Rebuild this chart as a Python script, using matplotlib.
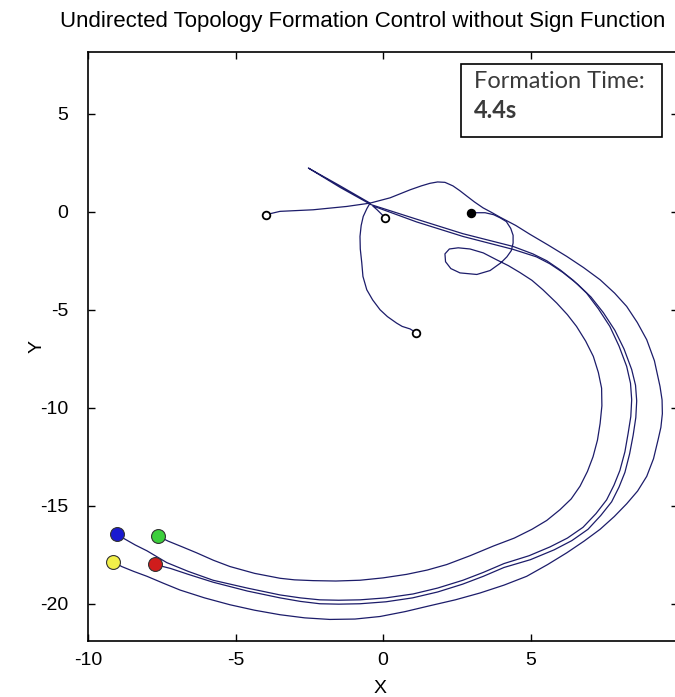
import matplotlib.pyplot as plt
from matplotlib.patches import Rectangle

# start positions of the four agents
start_x = [-3.97, 0.07, 2.98, 1.12]
start_y = [-0.15, -0.30, -0.05, -6.17]
start_fill = ['white', 'white', 'black', 'white']

# final formation positions
end_x = [-9.03, -7.62, -9.14, -7.73]
end_y = [-16.45, -16.55, -17.85, -17.95]
end_colors = ['#1a1ad0', '#3ccf3c', '#f2f04a', '#d01c1c']

# agent A: left start -> crossing -> hump -> outer arc (yellow)
path_a_x = [-3.97, -3.49, -2.37, -1.23, -0.44, 0.24, 0.92, 1.30, 1.59, 1.85, 2.10,
            2.37, 2.60, 2.84, 3.10, 3.39, 3.70, 3.97, 4.50, 4.98, 5.60, 6.23, 6.80,
            7.36, 7.85, 8.26, 8.62, 8.94, 9.20, 9.39, 9.46, 9.47, 9.42, 9.33, 9.17,
            8.94, 8.63, 8.26, 7.84, 7.36, 6.82, 6.23, 5.58, 4.87, 4.10, 3.29, 2.45,
            1.59, 0.75, -0.10, -0.95, -1.80, -2.65, -3.49, -4.35, -5.19, -6.05,
            -6.88, -7.45, -8.00, -8.45, -8.86, -9.14]
path_a_y = [-0.15, 0.02, 0.10, 0.27, 0.44, 0.71, 1.12, 1.32, 1.45, 1.52, 1.50,
            1.32, 1.08, 0.80, 0.50, 0.20, -0.05, -0.28, -0.70, -1.15, -1.70, -2.28,
            -2.85, -3.47, -4.15, -4.83, -5.65, -6.53, -7.60, -8.91, -9.60, -10.3,
            -11.0, -11.6, -12.6, -13.5, -14.25, -14.9, -15.55, -16.2, -16.8, -17.4,
            -18.0, -18.6, -19.05, -19.45, -19.8, -20.1, -20.4, -20.65, -20.78,
            -20.8, -20.72, -20.56, -20.33, -20.05, -19.7, -19.3, -18.95, -18.6,
            -18.35, -18.1, -17.85]

# agent D: bottom start -> crossing -> tip -> back -> middle arc (blue)
path_d_x = [1.12, 0.92, 0.65, 0.46, 0.15, -0.10, -0.35, -0.55, -0.68, -0.72, -0.77,
            -0.78, -0.74, -0.67, -0.55, -0.44, -1.50, -2.53, -1.45, -0.40, 1.14,
            2.71, 4.41, 5.08, 5.55, 6.00, 6.45, 6.90, 7.30, 7.69, 8.00, 8.26, 8.39,
            8.43, 8.40, 8.31, 8.20, 8.03, 7.83, 7.58, 7.22, 6.78, 6.25, 5.66, 4.95,
            4.10, 3.40, 2.71, 1.85, 1.02, 0.10, -0.78, -1.50, -2.14, -2.80, -3.49,
            -4.60, -5.76, -6.60, -7.33, -8.00, -8.40, -8.75, -9.03]
path_d_y = [-6.17, -5.98, -5.85, -5.68, -5.35, -5.00, -4.50, -3.98, -3.30, -2.60,
            -1.90, -1.26, -0.70, -0.24, 0.15, 0.44, 1.36, 2.23, 1.24, 0.36, -0.38,
            -1.12, -1.77, -2.15, -2.50, -2.96, -3.50, -4.15, -4.95, -5.85, -6.85,
            -7.89, -8.75, -9.59, -10.45, -11.3, -12.25, -13.2, -13.95, -14.7,
            -15.4, -16.1, -16.65, -17.1, -17.55, -17.95, -18.4, -18.8, -19.2,
            -19.5, -19.7, -19.8, -19.82, -19.8, -19.7, -19.55, -19.2, -18.8,
            -18.35, -17.9, -17.3, -17.0, -16.7, -16.45]

# agent B: middle start -> lower line of the pair -> middle arc (red)
path_b_x = [0.07, -0.20, -0.35, 1.14, 2.71, 4.41, 5.20, 5.65, 6.10, 6.60, 7.05,
            7.47, 7.86, 8.17, 8.43, 8.56, 8.60, 8.57, 8.48, 8.36, 8.20, 8.00, 7.75,
            7.38, 6.95, 6.40, 5.80, 5.00, 4.10, 3.40, 2.70, 1.85, 1.00, 0.10, -0.78,
            -1.50, -2.14, -2.80, -3.49, -4.60, -5.76, -6.60, -7.20, -7.46, -7.73]
path_b_y = [-0.30, 0.10, 0.30, -0.52, -1.26, -1.92, -2.30, -2.65, -3.10, -3.70,
            -4.35, -5.15, -6.05, -7.00, -8.05, -8.85, -9.65, -10.5, -11.4, -12.35,
            -13.3, -14.05, -14.8, -15.5, -16.2, -16.78, -17.25, -17.75, -18.15,
            -18.6, -19.0, -19.4, -19.7, -19.9, -20.0, -20.02, -20.0, -19.88, -19.7,
            -19.35, -18.9, -18.5, -18.2, -18.1, -17.95]

# agent C: right start -> loop -> inner arc (green)
path_c_x = [2.98, 3.46, 3.75, 3.97, 4.18, 4.33, 4.41, 4.41, 4.35, 4.20, 4.00, 3.63,
            3.18, 2.61, 2.30, 2.12, 2.10, 2.25, 2.55, 2.95, 3.40, 3.85, 4.25, 4.64,
            5.05, 5.42, 5.89, 6.25, 6.56, 6.87, 7.13, 7.30, 7.41, 7.42, 7.36, 7.27,
            7.12, 6.93, 6.68, 6.38, 6.00, 5.55, 5.05, 4.45, 3.75, 2.95, 2.16, 1.50,
            0.80, 0.00, -0.78, -1.60, -2.37, -3.00, -3.49, -4.35, -5.19, -5.75,
            -6.32, -6.80, -7.29, -7.62]
path_c_y = [-0.05, -0.05, -0.15, -0.31, -0.50, -0.85, -1.20, -1.60, -1.98, -2.30,
            -2.60, -3.00, -3.20, -3.12, -2.90, -2.55, -2.15, -1.90, -1.84, -1.90,
            -2.10, -2.45, -2.75, -3.10, -3.50, -3.98, -4.66, -5.25, -5.85, -6.60,
            -7.38, -8.20, -9.00, -9.90, -10.8, -11.65, -12.5, -13.25, -14.0, -14.65,
            -15.2, -15.75, -16.2, -16.65, -17.05, -17.55, -18.0, -18.28, -18.5,
            -18.68, -18.8, -18.84, -18.82, -18.78, -18.7, -18.45, -18.1, -17.78,
            -17.4, -17.1, -16.8, -16.55]

x_ticks = [-10, -5, 0, 5]
y_ticks = [-20, -15, -10, -5, 0, 5]

plt.rcParams['font.family'] = ['Liberation Sans', 'DejaVu Sans']
plt.rcParams['axes.unicode_minus'] = False

fig = plt.figure(figsize=(6.75, 6.97), dpi=100)
ax = fig.add_axes([88 / 675, 56 / 697, 590 / 675, 589 / 697])

line_color = '#1c1c6a'
for px, py in [(path_a_x, path_a_y), (path_d_x, path_d_y),
               (path_b_x, path_b_y), (path_c_x, path_c_y)]:
    ax.plot(px, py, color=line_color, lw=0.9)

for x, y, fc in zip(start_x, start_y, start_fill):
    ax.plot(x, y, 'o', ms=5.5, mfc=fc, mec='black', mew=1.3)

for x, y, c in zip(end_x, end_y, end_colors):
    ax.plot(x, y, 'o', ms=10, mfc=c, mec='#333333', mew=0.8)

ax.set_xlim(-10, 10)
ax.set_ylim(-21.9, 8.15)
ax.set_xticks(x_ticks)
ax.set_yticks(y_ticks)
ax.tick_params(direction='in', length=5, width=1, top=True, right=True,
               labelsize=14)
ax.tick_params(axis='x', pad=8)
ax.tick_params(axis='y', pad=14)
for s in ax.spines.values():
    s.set_linewidth(1.2)

ax.set_xlabel('X', fontsize=14)
ax.set_ylabel('Y', fontsize=14)
ax.xaxis.set_label_coords(0.495, -0.066)
ax.yaxis.set_label_coords(-0.072, 0.5)

fig.text(363 / 675, 1 - 22 / 697,
         'Undirected Topology Formation Control without Sign Function',
         ha='center', va='center', fontsize=16)

# formation time box
fig.patches.append(Rectangle((461 / 675, 1 - 137 / 697), 201 / 675, 73 / 697,
                             transform=fig.transFigure, facecolor='white',
                             edgecolor='black', lw=1.2, zorder=5))
fig.text(474 / 675, 1 - 82 / 697, 'Formation Time:', ha='left', va='center',
         fontsize=17, color='#3a3a3a', family=['Lato', 'DejaVu Sans'], zorder=6)
fig.text(474 / 675, 1 - 110 / 697, '4.4s', ha='left', va='center',
         fontsize=17, color='#3a3a3a', fontweight='bold',
         family=['Lato', 'DejaVu Sans'], zorder=6)

fig.savefig('out.png', dpi=100)
